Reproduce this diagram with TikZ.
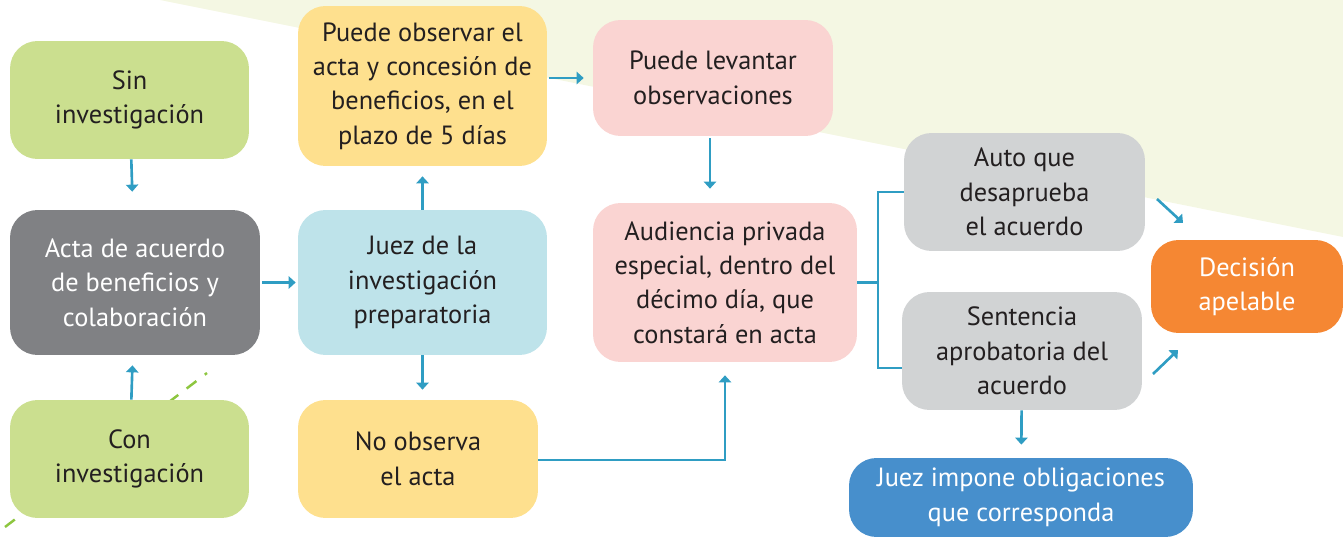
\documentclass[tikz,border=0pt]{standalone}
\usepackage{fontspec}
\setmainfont{PT Sans}
\usepackage{tikz}
\usetikzlibrary{calc, arrows.meta, backgrounds}
\definecolor{paleg}{HTML}{F4F7E3}
\definecolor{lgreen}{HTML}{CBDF8F}
\definecolor{dgrey}{HTML}{808184}
\definecolor{lyellow}{HTML}{FEE08E}
\definecolor{lblue}{HTML}{BEE3EA}
\definecolor{lpink}{HTML}{FAD4D2}
\definecolor{lgrey}{HTML}{D1D3D4}
\definecolor{orng}{HTML}{F58733}
\definecolor{mblue}{HTML}{478FCC}
\definecolor{arrc}{HTML}{2F9DC3}
\definecolor{txt}{HTML}{231F20}
\definecolor{dashg}{HTML}{8DC63F}
\tikzstyle{box}=[rounded corners=0.55cm, inner sep=0pt, align=center, text=txt, font=\fontsize{15}{19.6}\selectfont]
\tikzstyle{conn}=[draw=arrc, line width=1.5pt]
\tikzstyle{arr}=[conn, ->]
\tikzset{>={Triangle[length=4pt,width=7pt]}}

\begin{document}
\begin{tikzpicture}[x=0.02cm, y=-0.02cm]
\useasboundingbox (0,0) rectangle (1343,537);
% the pale background and the dashed line
\fill[paleg] (160,0) -- (1343,0) -- (1343,237) -- cycle;
\draw[dashg, line width=1.4pt, dash pattern=on 7pt off 6pt] (5,527) -- (207,373);
% the left column
\node[box, fill=lgreen, minimum width=4.78cm, minimum height=2.36cm] (sin) at (129.5,100) {Sin\\investigación};
\node[box, fill=dgrey, text=white, minimum width=5cm, minimum height=2.9cm] (acta) at (135,282.5) {Acta de acuerdo\\de beneficios y\\colaboración};
\node[box, fill=lgreen, minimum width=4.78cm, minimum height=2.36cm] (con) at (129.5,459) {Con\\investigación};
% the second column
\node[box, fill=lyellow, minimum width=4.98cm, minimum height=3.2cm] (obs) at (422.5,86) {Puede observar el\\acta y concesión de\\beneficios, en el\\plazo de 5 días};
\node[box, fill=lblue, minimum width=4.98cm, minimum height=2.9cm] (juez) at (422.5,282.5) {Juez de la\\investigación\\preparatoria};
\node[box, fill=lyellow, minimum width=4.8cm, minimum height=2.36cm] (noobs) at (418,459) {No observa\\el acta};
% the third column
\node[box, fill=lpink, minimum width=4.8cm, minimum height=2.32cm] (lev) at (713,78) {Puede levantar\\observaciones};
\node[box, fill=lpink, minimum width=5.28cm, minimum height=3.18cm] (aud) at (725,282.5) {Audiencia privada\\especial, dentro del\\décimo día, que\\constará en acta};
% the right part
\node[box, fill=lgrey, minimum width=4.82cm, minimum height=2.36cm] (auto) at (1024.5,192) {Auto que\\desaprueba\\el acuerdo};
\node[box, fill=lgrey, minimum width=4.8cm, minimum height=2.36cm] (sent) at (1022,351) {Sentencia\\aprobatoria del\\acuerdo};
\node[box, fill=orng, text=white, minimum width=3.84cm, minimum height=1.86cm] (dec) at (1247,286.5) {Decisión\\apelable};
\node[box, fill=mblue, text=white, minimum width=6.88cm, minimum height=1.58cm] (imp) at (1021,497.5) {Juez impone obligaciones\\que corresponda};
% free ends of the slanted arrows
\coordinate (a1) at (1157,199);
\coordinate (a2) at (1183,223);
\coordinate (b1) at (1153,374);
\coordinate (b2) at (1178,350);
\coordinate (br) at (878,282.5);
\coordinate (brb) at (878,368);
% the arrows
\draw[arr, shorten >=0.36cm] (sin) -- (acta);
\draw[arr, shorten >=0.2cm] (con) -- (acta);
\draw[arr, shorten <=0.04cm, shorten >=0.04cm] (acta.east |- juez) -- (juez);
\draw[arr, shorten >=0.2cm] (juez) -- (obs);
\draw[arr, shorten >=0.2cm] (juez.south) -- (juez.south |- noobs.north);
\draw[arr, shorten <=0.04cm, shorten >=0.18cm] (obs.east |- lev) -- (lev);
\draw[arr, shorten <=0.04cm, shorten >=0.28cm] (lev.south -| 710,0) -- (aud.north -| 710,0);
\draw[arr, shorten >=0.26cm] (noobs.east |- 0,460) -| (aud.south);
\draw[conn] (aud.east) -- (br) |- (auto.west);
\draw[conn] (br) -- (brb) -- (sent.west |- brb);
\draw[arr] (a1) -- (a2);
\draw[arr] (b1) -- (b2);
\draw[arr, shorten >=0.26cm] (sent) -- (imp);
\end{tikzpicture}
\end{document}
